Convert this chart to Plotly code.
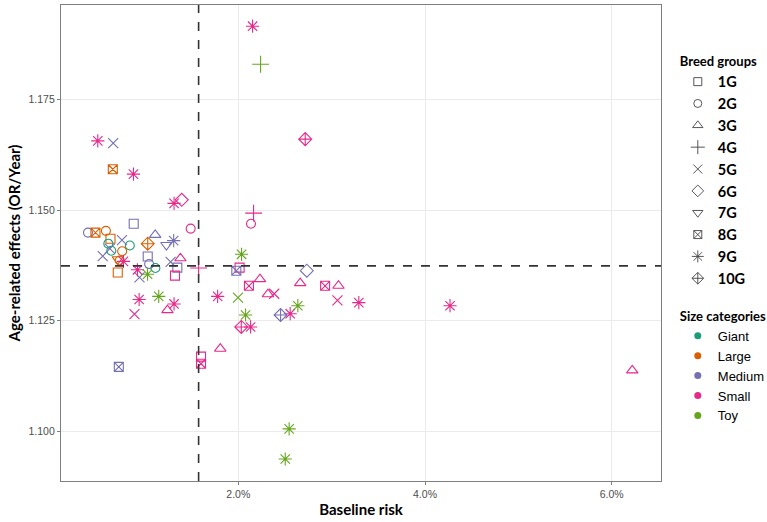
import plotly.graph_objects as go

# ---- data (baseline risk in %, age-related OR/year) ----
risk_pct = [2.153, 2.239, 2.717, 0.495, 0.660, 0.656, 0.877, 1.312, 1.394, 2.164,
            2.136, 0.880, 1.490, 0.390, 0.470, 0.582, 0.631, 0.608, 0.754, 0.838,
            0.624, 0.548, 0.640, 0.756, 0.709, 0.730, 0.770, 1.030, 1.110, 1.230,
            1.308, 1.030, 1.045, 1.112, 0.709, 0.920, 0.942, 1.028, 1.275, 1.380,
            1.347, 1.322, 1.575, 2.035, 2.014, 1.979, 2.734, 2.114, 2.232, 2.318,
            2.385, 2.663, 2.930, 3.073, 3.062, 3.291, 4.268, 1.779, 1.997, 2.078,
            2.032, 2.132, 2.453, 2.556, 2.638, 0.938, 1.148, 1.312, 1.241, 0.888,
            1.807, 1.601, 1.601, 0.720, 2.545, 2.503, 6.220]
or_year = [1.1915, 1.1829, 1.1660, 1.1656, 1.1651, 1.1592, 1.1581, 1.1515, 1.1523, 1.1493,
           1.1469, 1.1469, 1.1458, 1.1449, 1.1449, 1.1453, 1.1435, 1.1424, 1.1432, 1.1420,
           1.1413, 1.1396, 1.1408, 1.1407, 1.1389, 1.1386, 1.1384, 1.1424, 1.1444, 1.1421,
           1.1431, 1.1395, 1.1378, 1.1369, 1.1359, 1.1365, 1.1348, 1.1355, 1.1383, 1.1391,
           1.1370, 1.1352, 1.1369, 1.1400, 1.1370, 1.1363, 1.1363, 1.1329, 1.1344, 1.1310,
           1.1311, 1.1335, 1.1329, 1.1329, 1.1296, 1.1291, 1.1284, 1.1305, 1.1302, 1.1263,
           1.1236, 1.1236, 1.1263, 1.1266, 1.1284, 1.1298, 1.1305, 1.1288, 1.1274, 1.1265,
           1.1187, 1.1169, 1.1153, 1.1146, 1.1006, 1.0938, 1.1138]
breed_group = ["9G", "4G", "10G", "9G", "5G", "8G", "9G", "9G", "6G", "4G",
               "2G", "1G", "2G", "2G", "8G", "2G", "1G", "2G", "5G", "2G",
               "5G", "5G", "2G", "2G", "7G", "2G", "9G", "10G", "3G", "7G",
               "9G", "1G", "2G", "2G", "1G", "9G", "5G", "9G", "5G", "3G",
               "1G", "1G", "4G", "9G", "1G", "8G", "6G", "8G", "3G", "3G",
               "5G", "3G", "8G", "3G", "5G", "9G", "9G", "9G", "5G", "9G",
               "10G", "9G", "10G", "9G", "9G", "9G", "9G", "9G", "3G", "5G",
               "3G", "1G", "8G", "8G", "9G", "9G", "3G"]
size_cat = ["Small", "Toy", "Small", "Small", "Medium", "Large", "Small", "Small", "Small", "Small",
            "Small", "Medium", "Small", "Medium", "Large", "Large", "Large", "Giant", "Medium", "Giant",
            "Medium", "Medium", "Giant", "Large", "Large", "Large", "Small", "Large", "Medium", "Medium",
            "Medium", "Medium", "Medium", "Giant", "Large", "Small", "Medium", "Toy", "Medium", "Small",
            "Medium", "Small", "Small", "Toy", "Small", "Medium", "Medium", "Small", "Small", "Small",
            "Small", "Small", "Small", "Small", "Small", "Small", "Small", "Small", "Toy", "Toy",
            "Small", "Small", "Medium", "Small", "Toy", "Small", "Toy", "Small", "Small", "Small",
            "Small", "Small", "Small", "Medium", "Toy", "Toy", "Small"]

groups = ["1G", "2G", "3G", "4G", "5G", "6G", "7G", "8G", "9G", "10G"]
sizes = ["Giant", "Large", "Medium", "Small", "Toy"]

ref_risk_pct = 1.575
ref_or = 1.1374

# ---- styles ----
symbols = {"1G": "square-open", "2G": "circle-open", "3G": "triangle-up-open",
           "4G": "cross-thin-open", "5G": "x-thin-open", "6G": "diamond-open",
           "7G": "triangle-down-open", "8G": "square-x-open", "9G": "asterisk-open",
           "10G": "diamond-cross-open"}
colors = {"Giant": "#1B9E77", "Large": "#D95F02", "Medium": "#7570B3",
          "Small": "#E7298A", "Toy": "#66A61E"}
msize = {"1G": 9, "2G": 9, "3G": 10, "4G": 12, "5G": 10, "6G": 10,
         "7G": 10, "8G": 9, "9G": 11, "10G": 10}
lsize = {"1G": 8, "2G": 8, "3G": 9, "4G": 10, "5G": 9, "6G": 9,
         "7G": 9, "8G": 8, "9G": 10, "10G": 9}

fig = go.Figure()

for g in groups:
    idx = [i for i, b in enumerate(breed_group) if b == g]
    if not idx:
        continue
    fig.add_trace(go.Scatter(
        x=[risk_pct[i] / 100 for i in idx], y=[or_year[i] for i in idx],
        mode="markers", showlegend=False, hoverinfo="x+y",
        marker=dict(symbol=symbols[g], size=msize[g],
                    color=[colors[size_cat[i]] for i in idx],
                    line=dict(width=1.1, color=[colors[size_cat[i]] for i in idx]))))

# legend: breed groups
for g in groups:
    fig.add_trace(go.Scatter(
        x=[None], y=[None], mode="markers", name="<b>" + g + "</b>", legend="legend",
        marker=dict(symbol=symbols[g], size=lsize[g], color="#444444",
                    line=dict(width=0.9, color="#444444"))))
# legend: size categories
for s in sizes:
    fig.add_trace(go.Scatter(
        x=[None], y=[None], mode="markers", name=s, legend="legend2",
        marker=dict(symbol="circle", size=7, color=colors[s])))

# reference dashed lines
fig.add_shape(type="line", xref="x", yref="paper", x0=ref_risk_pct / 100, x1=ref_risk_pct / 100,
              y0=0, y1=1, line=dict(color="#333333", width=1.6, dash="dash"))
fig.add_shape(type="line", xref="paper", yref="y", x0=0, x1=1, y0=ref_or, y1=ref_or,
              line=dict(color="#333333", width=1.6, dash="dash"))

fig.update_layout(
    width=767, height=522,
    margin=dict(l=61, r=106, t=5, b=41, autoexpand=False),
    paper_bgcolor="white", plot_bgcolor="white",
    font=dict(family="Lato", color="#000000"),
    legend=dict(title=dict(text="<b>Breed groups</b>", font=dict(size=13, family="Lato")),
                x=1.028, y=0.908, xanchor="left", yanchor="top",
                font=dict(size=14.5, family="Lato"), itemsizing="trace",
                bgcolor="rgba(0,0,0,0)"),
    legend2=dict(title=dict(text="<b>Size categories</b>", font=dict(size=13, family="Lato")),
                 x=1.028, y=0.372, xanchor="left", yanchor="top",
                 font=dict(size=13, family="Liberation Sans"), itemsizing="trace",
                 bgcolor="rgba(0,0,0,0)"),
)

fig.update_xaxes(
    range=[0.00101, 0.06528], tickvals=[0.02, 0.04, 0.06], tickformat=".1%",
    showgrid=True, gridcolor="#EBEBEB", gridwidth=1, zeroline=False,
    showline=True, linecolor="#7F7F7F", linewidth=1.2, mirror=True,
    ticks="outside", ticklen=3, tickcolor="#7F7F7F",
    tickfont=dict(size=10.5, family="Liberation Sans", color="#4D4D4D"),
    title=dict(text="<b>Baseline risk</b>", font=dict(size=15, family="Lato"), standoff=5))
fig.update_yaxes(
    range=[1.08883, 1.19628], tickvals=[1.100, 1.125, 1.150, 1.175], tickformat=".3f",
    showgrid=True, gridcolor="#EBEBEB", gridwidth=1, zeroline=False,
    showline=True, linecolor="#7F7F7F", linewidth=1.2, mirror=True,
    ticks="outside", ticklen=3, tickcolor="#7F7F7F",
    tickfont=dict(size=10.5, family="Liberation Sans", color="#4D4D4D"),
    title=dict(text="<b>Age-related effects (OR/Year)</b>", font=dict(size=15, family="Lato"), standoff=4))

fig.write_html("out.html")
